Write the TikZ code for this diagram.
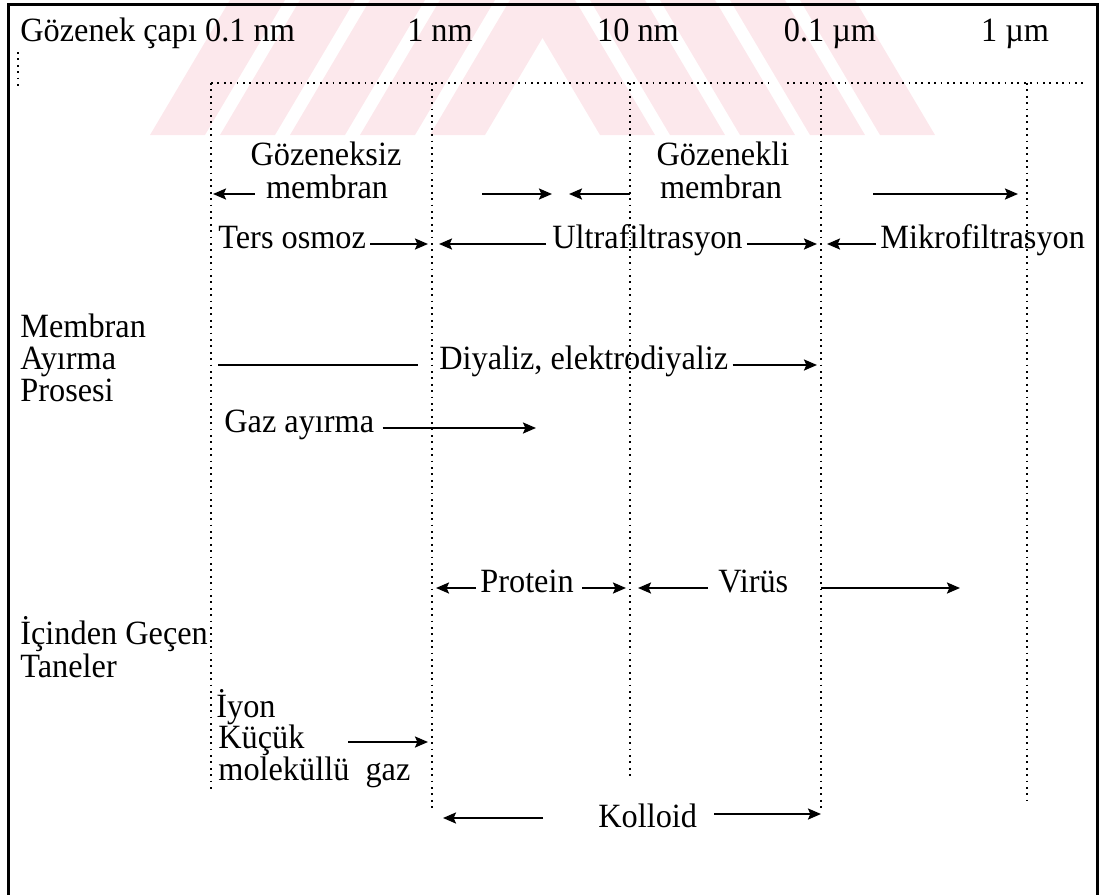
\documentclass[tikz,border=0pt]{standalone}
\usepackage{fontspec}
\setmainfont{Liberation Serif}[FakeStretch=0.95]
\usetikzlibrary{arrows.meta}

\definecolor{wmpink}{RGB}{252,232,236}

\tikzset{
	dotline/.style={line width=0.9pt, dash pattern=on 0.9pt off 2.3pt},
	arr/.style={line width=1.1pt, -{Stealth[length=6.5pt,width=5.5pt,inset=1.2pt]}},
	plain/.style={line width=1.1pt},
	lbl/.style={inner sep=0pt, text height=0.68em, text depth=0.25em, anchor=west},
	clbl/.style={lbl, anchor=center},
}

\begin{document}
\begin{tikzpicture}[x=0.5pt,y=-0.5pt,font=\fontsize{17}{20}\selectfont]
\def\ytop{83}
\def\sw{55}
\def\sh{80}
\useasboundingbox (0,0) rectangle (1105,895);

% watermark
\foreach \b in {150,220,290,360,430}
	\fill[wmpink] (\b,135) -- ++(\sw,0) -- ++(\sh,-135) -- ++(-\sw,0) -- cycle;
\foreach \e in {935,865,795,725,655}
	\fill[wmpink] (\e,135) -- ++(-\sw,0) -- ++(-\sh,-135) -- ++(\sw,0) -- cycle;

% frame, open at the bottom
\draw[line width=1.5pt] (8,895) -- (8,4) -- (1097,4) -- (1097,895);

% size columns
\foreach \i/\x/\yb in {1/211/792,2/432/808,3/630/778,4/821/808,5/1027/800}
{
	\coordinate (t\i) at (\x,\ytop);
	\coordinate (b\i) at (\x,\yb);
	\draw[dotline] (t\i) -- (b\i);
}
\coordinate (gapl) at (768,\ytop);
\coordinate (gapr) at (787,\ytop);
\coordinate (tend) at (1085,\ytop);
\draw[dotline] (t1) -- (gapl);
\draw[dotline] (gapr) -- (tend);
\draw[dotline] (18,52) -- (18,90);

\begin{scope}[yshift=-2.5pt]
% pore size scale
\node[lbl] (cap) at (20,32) {Gözenek çapı 0.1 nm};
\node[clbl] (nm1) at (440,32) {1 nm};
\node[clbl] (nm10) at (638,32) {10 nm};
\node[clbl] (um01) at (830,32) {0.1 µm};
\node[clbl] (um1) at (1015,32) {1 µm};

% membrane type
\node[clbl] (gzsz) at (326,156) {Gözeneksiz};
\node[clbl] (gzszm) at (327,189) {membran};
\node[clbl] (gzkl) at (723,156) {Gözenekli};
\node[clbl] (gzklm) at (721,189) {membran};
\coordinate (a2s) at (482,189);
\coordinate (a2e) at (552,189);
\coordinate (a3e) at (569,189);
\coordinate (a4s) at (873,189);
\coordinate (a4e) at (1018,189);
\draw[arr, shorten >=1pt] ([xshift=-5.5pt]gzszm.west) -- (gzszm.west -| t1);
\draw[arr] (a2s) -- (a2e);
\draw[arr] (gzklm.west -| t3) -- (a3e);
\draw[arr] (a4s) -- (a4e);

% processes
\node[lbl] (ters) at (218,239) {Ters osmoz};
\node[lbl] (ultra) at (552,239) {Ultrafiltrasyon};
\node[lbl] (mikro) at (880,239) {Mikrofiltrasyon};
\draw[arr, shorten >=2pt] ([xshift=2pt]ters.east) -- (ters.east -| t2);
\draw[arr, shorten >=3.5pt] ([xshift=-3pt]ultra.west) -- (ultra.west -| t2);
\draw[arr, shorten >=2pt] ([xshift=2pt]ultra.east) -- (ultra.east -| t4);
\draw[arr, shorten >=3pt] ([xshift=-2pt]mikro.west) -- (mikro.west -| t4);

\node[lbl] (mem1) at (20,328) {Membran};
\node[lbl] (mem2) at (20,360) {Ayırma};
\node[lbl] (mem3) at (20,392) {Prosesi};

\node[lbl] (diy) at (439,360) {Diyaliz, elektrodiyaliz};
\draw[plain, shorten <=3.5pt, shorten >=7pt] (diy.west -| t1) -- (diy.west -| t2);
\draw[arr, shorten >=2pt] ([xshift=2pt]diy.east) -- (diy.east -| t4);

\node[lbl] (gaz) at (224,423) {Gaz ayırma};
\coordinate (d1e) at (536,423);
\draw[arr] ([xshift=4pt]gaz.east) -- (d1e);

% particles
\node[lbl] (prot) at (480,583) {Protein};
\node[lbl] (virus) at (718,583) {Virüs};
\coordinate (e4e) at (960,583);
\draw[arr, shorten >=2pt] ([xshift=-2pt]prot.west) -- (prot.west -| t2);
\draw[arr, shorten >=2pt] ([xshift=4pt]prot.east) -- (prot.east -| t3);
\draw[arr, shorten >=4pt] ([xshift=-5pt]virus.west) -- (virus.west -| t3);
\draw[arr] (virus.east -| t4) -- (e4e);

\node[lbl] (tan1) at (20,635) {İçinden Geçen};
\node[lbl] (tan2) at (20,668) {Taneler};

\node[lbl] (iyon) at (216,708) {İyon};
\node[lbl] (kucuk) at (218,739) {Küçük};
\node[lbl] (molek) at (218,771) {moleküllü\ \ gaz};
\coordinate (f1s) at (348,737);
\draw[arr, shorten >=2pt] (f1s) -- (f1s -| t2);

\node[lbl] (koll) at (598,818) {Kolloid};
\coordinate (g1s) at (543,813);
\coordinate (g2s) at (714,809);
\draw[arr, shorten >=5.5pt] (g1s) -- (g1s -| t2);
\draw[arr] (g2s) -- (g2s -| t4);
\end{scope}

\end{tikzpicture}
\end{document}
